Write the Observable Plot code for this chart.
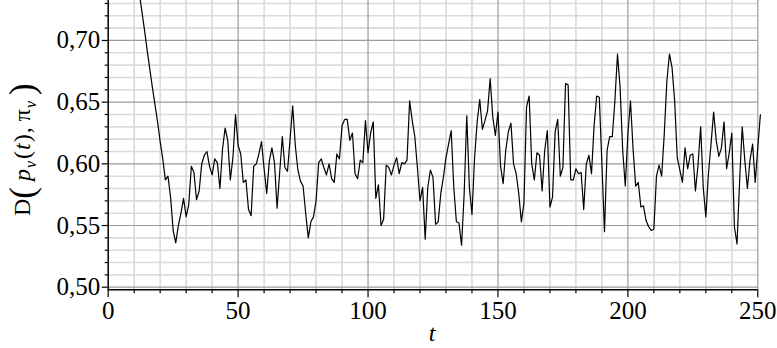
<!DOCTYPE html>
<html><head><meta charset="utf-8">
<script src="https://cdn.jsdelivr.net/npm/d3@7"></script>
<script src="https://cdn.jsdelivr.net/npm/@observablehq/plot@0.6"></script>
<style>body{margin:0;background:#fff}</style>
</head><body><div id="chart"></div>
<script>
// series: D(p_v(t), pi_v) for t = 10, 11, ..., 251 (one value per step)
const tStart = 10;
const values = [
0.768,0.753,0.738,0.723,0.708,0.692,0.677,0.662,0.648,0.634, // 10-19
0.618,0.604,0.587,0.590,0.573,0.546,0.536,0.550,0.560,0.572, // 20-29
0.557,0.567,0.598,0.593,0.571,0.578,0.600,0.607,0.610,0.598, // 30-39
0.591,0.604,0.601,0.580,0.612,0.629,0.619,0.587,0.605,0.640, // 40-49
0.615,0.608,0.585,0.587,0.563,0.558,0.598,0.600,0.608,0.618, // 50-59
0.596,0.576,0.602,0.613,0.601,0.564,0.593,0.622,0.597,0.594, // 60-69
0.620,0.647,0.615,0.595,0.586,0.582,0.560,0.540,0.553,0.557, // 70-79
0.570,0.601,0.604,0.597,0.591,0.600,0.588,0.585,0.608,0.604, // 80-89
0.631,0.636,0.636,0.619,0.625,0.592,0.588,0.603,0.601,0.635, // 90-99
0.609,0.625,0.634,0.572,0.583,0.550,0.555,0.599,0.597,0.591, // 100-109
0.599,0.605,0.592,0.601,0.600,0.603,0.651,0.635,0.622,0.597, // 110-119
0.570,0.581,0.539,0.581,0.595,0.589,0.551,0.553,0.576,0.589, // 120-129
0.605,0.616,0.627,0.581,0.553,0.552,0.534,0.576,0.639,0.581, // 130-139
0.559,0.605,0.634,0.652,0.628,0.635,0.643,0.669,0.638,0.623, // 140-149
0.642,0.598,0.584,0.611,0.626,0.633,0.600,0.592,0.576,0.553, // 150-159
0.568,0.646,0.655,0.600,0.587,0.609,0.607,0.578,0.611,0.627, // 160-169
0.565,0.573,0.626,0.636,0.590,0.597,0.665,0.664,0.587,0.587, // 170-179
0.596,0.592,0.593,0.563,0.600,0.607,0.592,0.631,0.655,0.654, // 180-189
0.600,0.545,0.611,0.622,0.622,0.651,0.689,0.662,0.611,0.582, // 190-199
0.624,0.651,0.612,0.582,0.585,0.565,0.566,0.554,0.549,0.546, // 200-209
0.547,0.590,0.599,0.590,0.624,0.667,0.689,0.678,0.651,0.605, // 210-219
0.595,0.585,0.613,0.596,0.607,0.608,0.578,0.599,0.630,0.581, // 220-229
0.557,0.592,0.616,0.642,0.619,0.606,0.613,0.634,0.596,0.609, // 230-239
0.625,0.549,0.535,0.586,0.630,0.603,0.580,0.603,0.616,0.585, // 240-249
0.613,0.640                                                  // 250-251
];
const xTicks = [0, 50, 100, 150, 200, 250];
const xTickLabels = ["0", "50", "100", "150", "200", "250"];
const yTicks = [0.50, 0.55, 0.60, 0.65, 0.70];
const yTickLabels = ["0,50", "0,55", "0,60", "0,65", "0,70"];
const xMinor = [10,20,30,40,60,70,80,90,110,120,130,140,160,170,180,190,210,220,230,240];
const yMinor = [0.51,0.52,0.53,0.54,0.56,0.57,0.58,0.59,0.61,0.62,0.63,0.64,0.66,0.67,0.68,0.69,0.71,0.72,0.73];
const xLabel = "t";

const data = values.map((v, i) => ({t: tStart + i, v}));
const yDom = [0.4979, 0.7324];
const serif = "Liberation Serif";
const fsTick = 25;
const fsTitle = 24;

const plot = Plot.plot({
  width: 777, height: 348,
  marginLeft: 107.7, marginRight: 19.7, marginTop: 0, marginBottom: 58.7,
  x: {domain: [0, 250], label: null},
  y: {domain: yDom, label: null},
  style: {background: "white", color: "black"},
  marks: [
    Plot.ruleX(xMinor, {stroke: "#dadada", strokeWidth: 1.6}),
    Plot.ruleY(yMinor, {stroke: "#dadada", strokeWidth: 1.6}),
    Plot.ruleX(xTicks, {stroke: "#9c9c9c", strokeWidth: 1.2}),
    Plot.ruleY(yTicks, {stroke: "#9c9c9c", strokeWidth: 1.2}),
    Plot.axisX(xMinor, {tickSize: 4, tickFormat: () => "", label: null, strokeWidth: 1.2}),
    Plot.axisX(xTicks, {tickSize: 8, tickFormat: () => "", label: null, strokeWidth: 1.2}),
    Plot.axisY(yMinor, {tickSize: 3, tickFormat: () => "", label: null, strokeWidth: 1.2}),
    Plot.axisY(yTicks, {tickSize: 6, tickFormat: () => "", label: null, strokeWidth: 1.2}),
    Plot.text(xTicks, {x: d => d, y: yDom[0], text: (d, i) => xTickLabels[i],
      lineAnchor: "top", dy: 11, fontFamily: serif, fontSize: fsTick, fill: "black"}),
    Plot.text(yTicks, {x: 0, y: d => d, text: (d, i) => yTickLabels[i],
      textAnchor: "end", dx: -8, fontFamily: serif, fontSize: fsTick, fill: "black"}),
    Plot.ruleY([yDom[0]], {stroke: "black", strokeWidth: 1.4}),
    Plot.ruleX([0], {stroke: "black", strokeWidth: 1.4}),
    Plot.line(data, {x: "t", y: "v", stroke: "black", strokeWidth: 1.2})
  ]
});

const svg = d3.select(plot);

// y-axis title: D(p_v(t), π_v)
const yt = svg.append("text")
  .attr("transform", "translate(30,216) rotate(-90)")
  .attr("text-anchor", "start")
  .attr("font-family", serif).attr("font-size", fsTitle).attr("fill", "black");
yt.append("tspan").text("D");
yt.append("tspan").attr("font-size", 35).attr("dy", 4).text("(");
yt.append("tspan").attr("font-style", "italic").attr("dy", -4).attr("dx", 6).text("p");
yt.append("tspan").attr("font-style", "italic").attr("font-size", 16).attr("dy", 6).attr("dx", 1).text("v");
yt.append("tspan").attr("dy", -6).attr("dx", 2).text("(");
yt.append("tspan").attr("font-style", "italic").attr("dx", 1).text("t");
yt.append("tspan").attr("dx", 1).text(")");
yt.append("tspan").attr("dx", 1).text(", π");
yt.append("tspan").attr("font-style", "italic").attr("font-size", 16).attr("dy", 6).attr("dx", 1).text("v");
yt.append("tspan").attr("font-size", 35).attr("dy", -2).attr("dx", 6).text(")");
// x-axis title
svg.append("text").attr("x", 432).attr("y", 341).attr("text-anchor", "middle")
  .attr("font-family", serif).attr("font-size", fsTitle).attr("font-style", "italic")
  .attr("fill", "black").text(xLabel);

document.getElementById("chart").appendChild(plot);
</script>
</body></html>
